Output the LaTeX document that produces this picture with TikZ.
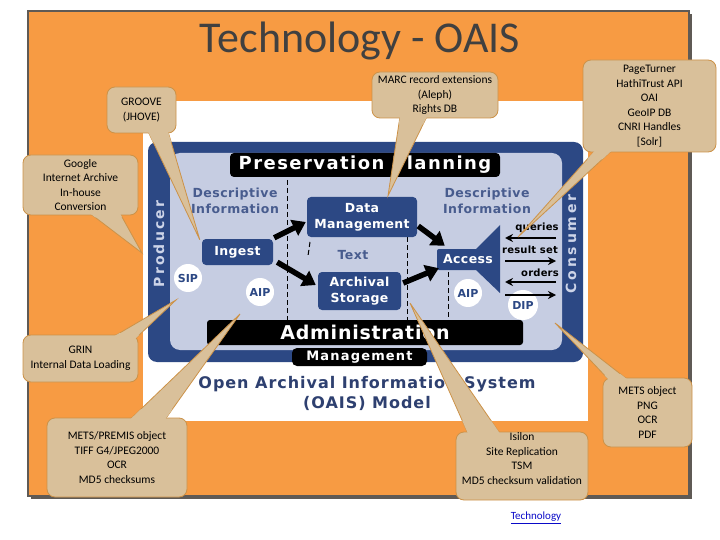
\documentclass[tikz,border=0pt]{standalone}
\usepackage{fontspec}
\setmainfont{Carlito}
\newfontfamily\vfont{DejaVu Sans}
\usetikzlibrary{arrows.meta,calc}
\pgfdeclarelayer{back}
\pgfdeclarelayer{ptrs}
\pgfsetlayers{back,ptrs,main}
\definecolor{orng}{RGB}{247,155,67}
\definecolor{framec}{RGB}{95,90,85}
\definecolor{dblue}{RGB}{44,72,132}
\definecolor{lblue}{RGB}{198,205,226}
\definecolor{dtext}{RGB}{72,92,142}
\definecolor{ttext}{RGB}{46,64,112}
\definecolor{tanc}{RGB}{217,192,154}
\definecolor{tanline}{RGB}{204,146,72}
\definecolor{ttl}{RGB}{64,64,64}
\definecolor{plbl}{RGB}{205,212,232}
\definecolor{linkc}{RGB}{10,10,200}
\newcommand\callptr[3]{%
  \begin{pgfonlayer}{ptrs}\filldraw[ptrline] (#1) -- (#2) -- (#3) -- cycle;\end{pgfonlayer}%
  \fill[tanc] (#1) -- ($(#1)!0.1!(#2)$) -- ($(#3)!0.1!(#2)$) -- (#3) -- cycle;}
\newcommand\vf[3]{\vfont\bfseries\fontsize{#1}{#2}\selectfont\addfontfeature{LetterSpace=#3}}
\begin{document}
\begin{tikzpicture}[x=1pt,y=-1pt,
  bluebox/.style={fill=dblue, rounded corners=4pt, text=white, inner sep=0pt, align=center,
    font=\vf{12.5}{16}{3}},
  blackbar/.style={fill=black, text=white, inner sep=0pt, rounded corners=3pt,
    font=\vf{18}{20}{8}},
  desc/.style={text=dtext, align=center, inner sep=0pt, font=\vf{12.5}{16}{4}},
  circ/.style={circle, fill=white, minimum size=28pt, inner sep=0pt, text=dblue,
    font=\vf{11}{13}{0}},
  sidelbl/.style={rotate=90, text=plbl, inner sep=0pt, font=\vf{14}{16}{15}},
  smalllbl/.style={text=black, inner sep=0pt, font=\vf{10}{12}{2}},
  bigarrow/.style={line width=5.5pt, -{Triangle[length=13pt,width=17pt]}},
  smallarrow/.style={line width=2pt, -{Stealth[length=8pt,width=8pt]}},
  dashline/.style={dash pattern=on 5pt off 3pt, line width=1pt},
  callbox/.style={fill=tanc, draw=tanline, line width=0.8pt, rounded corners=8pt, inner sep=0pt,
    align=center, text=black, font=\fontsize{11.5}{14.5}\selectfont},
  ptrline/.style={fill=tanc, draw=tanline, line width=0.8pt, line join=miter}]
\useasboundingbox (0,0) rectangle (720,540);

\begin{pgfonlayer}{back}
% frame
\fill[framec] (31,14) rectangle (692,499);
\filldraw[fill=orng, draw=framec, line width=1.5pt] (28,11) rectangle (689,496);
\fill[white] (143,101) rectangle (588,421);
% OAIS diagram
\fill[dblue, rounded corners=9pt] (148,142) rectangle (583,362);
\fill[lblue, rounded corners=10pt] (170,153) rectangle (562,350);
\node[blackbar, minimum width=270pt, minimum height=24pt, rounded corners=4pt] (pp) at (365,165) {Preservation Planning};
\node[desc] (descL) at (235,201) {Descriptive\\Information};
\node[desc] (descR) at (487,201) {Descriptive\\Information};
\node[sidelbl] (producer) at (159,244) {Producer};
\node[sidelbl, font=\vf{14}{16}{20}] (consumer) at (571,244) {Consumer};
\draw[dashline] (287,180) -- (287,320);
\draw[dashline] (407,237) -- (407,320);
\draw[dashline] (448,272) -- (448,320);
\draw[dashline] (310,242) -- (308,256);
\node[bluebox, minimum width=110pt, minimum height=40pt] (dm) at (362,217) {Data\\Management};
\node[bluebox, minimum width=71pt, minimum height=26pt] (ingest) at (237.5,252) {Ingest};
\node[bluebox, minimum width=83pt, minimum height=38pt] (as) at (359.5,291) {Archival\\Storage};
\fill[dblue] (476,249) -- (500,225) -- (500,293) -- (476,270) -- cycle;
\node[bluebox, minimum width=62pt, minimum height=21pt, rounded corners=2pt] (access) at (468,259.5) {Access};
\node[desc] (text) at (353,255) {Text};
\node[circ] (sip) at (188,278) {SIP};
\node[circ] (aipL) at (260,292) {AIP};
\node[circ] (aipR) at (468,293) {AIP};
\node[circ, minimum size=30pt] (dip) at (523,305) {DIP};
\draw[bigarrow] ($(ingest.north east)+(1,-1)$) -- ($(dm.west)+(-1,5)$);
\draw[bigarrow] ($(ingest.south east)+(4,-3)$) -- ($(as.west)+(-2,-6)$);
\draw[bigarrow] ($(dm.east)+(1,9)$) -- ($(access.north west)+(8,-3)$);
\draw[bigarrow] ($(as.east)+(2,-8)$) -- ($(access.south west)+(2,-2)$);
\node[smalllbl] (queries) at (537,228) {queries};
\node[smalllbl] (resultset) at (530,250) {result set};
\node[smalllbl] (orders) at (540,273) {orders};
\coordinate (q1) at (556,238); \coordinate (q2) at (505,238);
\coordinate (r1) at (505,261); \coordinate (r2) at (556,261);
\coordinate (o1) at (556,282); \coordinate (o2) at (505,282);
\coordinate (d1) at (505,295); \coordinate (d2) at (556,295);
\draw[smallarrow] (q1) -- (q2);
\draw[smallarrow] (r1) -- (r2);
\draw[smallarrow] (o1) -- (o2);
\draw[smallarrow] (d1) -- (d2);
\node[blackbar, minimum width=316pt, minimum height=25pt, font=\vf{19}{20}{4}] (admin) at (365,332.5) {Administration};
\node[blackbar, minimum width=135pt, minimum height=18pt, rounded corners=5pt, font=\vf{13}{15}{9}] (mgmt) at (359.5,357) {Management};
\node[text=ttext, align=center, inner sep=0pt, font=\vf{16}{20}{6}] (oais) at (367,393) {Open Archival Information System\\(OAIS) Model};
\end{pgfonlayer}

% title and link
\node[text=ttl, anchor=base, inner sep=0pt, font=\fontsize{44}{50}\selectfont] (title) at (360,53) {Technology - OAIS};
\node[text=linkc, inner sep=0pt, font=\fontsize{11}{12}\selectfont] (link) at (536,518) {\underline{Technology}};

% tips
\coordinate (tG) at ($(ingest.north west)+(-2,1)$);
\coordinate (tM) at ($(dm.north)+(26,-1)$);
\coordinate (tP) at (518,237);
\coordinate (tGo) at (142,253);
\coordinate (tGr) at (176,300);
\coordinate (tMe) at (240,314);
\coordinate (tI) at (410,303);
\coordinate (tMo) at (555,323);

% callouts
\node[callbox, minimum width=69pt, minimum height=46pt] (groove) at (141.5,110) {GROOVE\\(JHOVE)};
\coordinate (g1) at ($(groove.south)+(6.5,-2)$); \coordinate (g2) at ($(groove.south)+(26.5,-2)$);
\callptr{g1}{tG}{g2}

\node[callbox, minimum width=126pt, minimum height=46pt] (marc) at (435,95) {MARC record extensions\\(Aleph)\\Rights DB};
\coordinate (m1) at ($(marc.south)+(-35,-2)$); \coordinate (m2) at ($(marc.south)+(-8,-2)$);
\callptr{m1}{tM}{m2}

\node[callbox, minimum width=133pt, minimum height=92pt] (pt) at (649.5,106) {PageTurner\\HathiTrust API\\OAI\\GeoIP DB\\CNRI Handles\\{[Solr]}};
\coordinate (p1) at ($(pt.south)+(-54.5,-2)$); \coordinate (p2) at ($(pt.south)+(-37.5,-2)$);
\callptr{p1}{tP}{p2}

\node[callbox, minimum width=115pt, minimum height=60pt] (google) at (80.5,185) {Google\\Internet Archive\\In-house\\Conversion};
\coordinate (go1) at ($(google.south)+(9.5,-2)$); \coordinate (go2) at ($(google.south)+(39.5,-2)$);
\callptr{go1}{tGo}{go2}

\node[callbox, minimum width=115pt, minimum height=47pt] (grin) at (80.5,358.5) {GRIN\\Internal Data Loading};
\coordinate (gr1) at ($(grin.north)+(33,2)$); \coordinate (gr2) at ($(grin.north east)+(-3,4)$);
\callptr{gr1}{tGr}{gr2}

\node[callbox, minimum width=140pt, minimum height=79pt] (mets) at (117,457.5) {METS/PREMIS object\\TIFF G4/JPEG2000\\OCR\\MD5 checksums};
\coordinate (me1) at ($(mets.north)+(13,2)$); \coordinate (me2) at ($(mets.north)+(48,2)$);
\callptr{me1}{tMe}{me2}

\node[callbox, minimum width=132pt, minimum height=68pt] (isilon) at (522,466) {Isilon\\Site Replication\\TSM\\MD5 checksum validation\\~};
\coordinate (i1) at ($(isilon.north)+(-54,2)$); \coordinate (i2) at ($(isilon.north)+(-22,2)$);
\callptr{i1}{tI}{i2}

\node[callbox, minimum width=89pt, minimum height=69pt] (metsobj) at (647.5,412.5) {METS object\\PNG\\OCR\\PDF};
\coordinate (mo1) at ($(metsobj.north west)+(7,3)$); \coordinate (mo2) at ($(metsobj.north west)+(25,2)$);
\callptr{mo1}{tMo}{mo2}
\end{tikzpicture}
\end{document}
